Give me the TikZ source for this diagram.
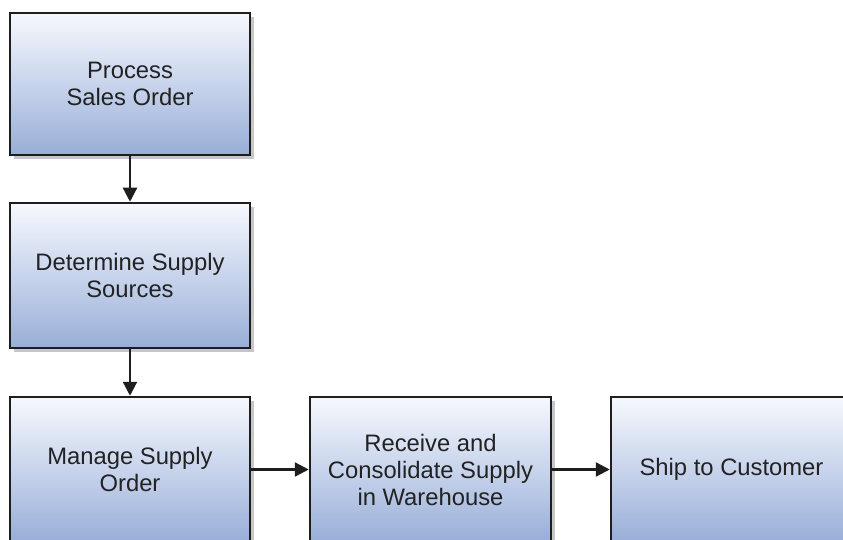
\documentclass[tikz,border=0pt]{standalone}
\usepackage{fontspec}
\setmainfont{Liberation Sans}
\usetikzlibrary{arrows.meta,shadows}
\definecolor{boxtop}{HTML}{F6F8FD}
\definecolor{boxmid}{HTML}{C8D4EC}
\definecolor{boxbot}{HTML}{98AED7}
\definecolor{edge}{HTML}{1E1E1E}
\definecolor{txt}{HTML}{222222}
\begin{document}
\begin{tikzpicture}[x=1pt,y=-1pt,
  stepbox/.style={draw=edge, line width=2.5pt, rectangle, inner sep=0pt,
    top color=boxtop, bottom color=boxbot, middle color=boxmid,
    minimum width=240pt, minimum height=145pt, align=center, text=txt,
    font=\fontsize{23.8}{27}\selectfont,
    drop shadow={shadow xshift=4pt, shadow yshift=-4pt, fill=black, opacity=0.22}},
  flow/.style={draw=edge, line width=2.3pt, -{Triangle[length=14pt,width=14pt]}}]
\useasboundingbox (0,0) rectangle (843,540);
\clip (0,0) rectangle (843,540);
\fill[white] (0,0) rectangle (843,540);
\node[stepbox, minimum height=142pt] (b1) at (130,84) {Process\\Sales Order};
\node[stepbox] (b2) at (130,275.5) {Determine Supply\\Sources};
\node[stepbox] (b3) at (130,469.5) {Manage Supply\\Order};
\node[stepbox, minimum width=241pt] (b4) at (430.5,469.5) {Receive and\\Consolidate Supply\\in Warehouse};
\node[stepbox, minimum width=241pt] (b5) at (731.5,469.5) {Ship to Customer};
\draw[flow] (b1.south) -- (b2.north);
\draw[flow] (b2.south) -- (b3.north);
\draw[flow] (b3.east) -- (b4.west);
\draw[flow] (b4.east) -- (b5.west);
\end{tikzpicture}
\end{document}
